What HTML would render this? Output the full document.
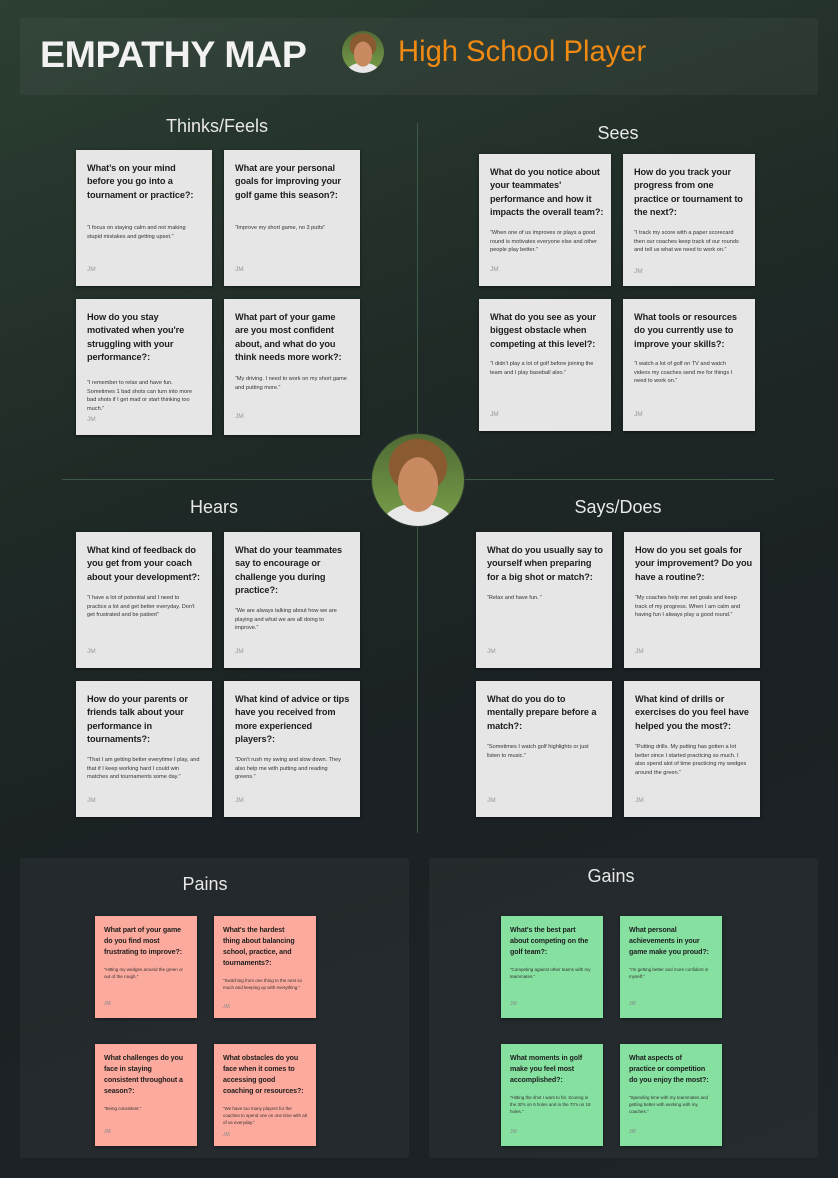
<!DOCTYPE html>
<html><head><meta charset="utf-8"><style>
*{margin:0;padding:0;box-sizing:border-box}
body{width:838px;height:1178px;position:relative;overflow:hidden;font-family:"Liberation Sans",sans-serif;
background:linear-gradient(160deg,#2c3f32 0%,#1f2a26 35%,#1b2124 60%,#1d2326 100%)}
.panel{position:absolute;background:rgba(255,255,255,0.04);border-radius:3px}
.h{position:absolute;color:#e8e8e8;font-size:18px;text-align:center;width:200px}
.c{position:absolute;background:#e6e6e6;color:#1e1e1e;box-shadow:0 1px 3px rgba(0,0,0,.5)}
.c .q{position:absolute;left:11px;top:12px;white-space:nowrap;font-weight:bold;font-size:9.2px;line-height:13.3px;letter-spacing:-0.1px}
.c .a{position:absolute;left:11px;right:12px;font-size:5.6px;line-height:8.7px;color:#333}
.c .j{position:absolute;left:11px;font-size:6.5px;color:#999}
.s{position:absolute;color:#1e1e1e;box-shadow:0 1px 3px rgba(0,0,0,.5)}
.s .q{position:absolute;left:9px;top:9px;white-space:nowrap;font-weight:bold;font-size:7.1px;line-height:11px;letter-spacing:-0.1px}
.s .a{position:absolute;left:9px;right:8px;font-size:4.5px;line-height:7px;color:#333}
.s .j{position:absolute;left:9px;font-size:5px;color:#888}
.p{background:#fcaa9d}.g{background:#86e0a0}
.face{position:absolute;border-radius:50%;overflow:hidden;background:radial-gradient(ellipse 22% 30% at 50% 55%,#c98a62 0 98%,transparent 100%),radial-gradient(ellipse 32% 30% at 50% 35%,#8a5a30 0 98%,transparent 100%),radial-gradient(ellipse 40% 25% at 50% 100%,#e8e8e8 0 98%,transparent 100%),linear-gradient(#4f6a35,#7aa04a)}
</style></head><body>
<div class="panel" style="left:20px;top:18px;width:798px;height:77px"></div>
<div style="position:absolute;left:40px;top:33px;font-size:37.5px;font-weight:bold;color:#f2f2f2;letter-spacing:-0.4px">EMPATHY MAP</div>
<div class="face" style="left:342px;top:31px;width:42px;height:42px"></div>
<div style="position:absolute;left:398px;top:36px;font-size:29.2px;color:#f08a12">High School Player</div>

<div style="position:absolute;left:417px;top:123px;width:1px;height:710px;background:#3d5a47"></div>
<div style="position:absolute;left:62px;top:479px;width:712px;height:1px;background:#3d5a47"></div>

<div class="h" style="left:117px;top:116px">Thinks/Feels</div>
<div class="h" style="left:518px;top:123px">Sees</div>
<div class="h" style="left:114px;top:497px">Hears</div>
<div class="h" style="left:518px;top:497px">Says/Does</div>

<div class="c" style="left:76px;top:150px;width:136px;height:136px"><div class="q">What’s on your mind<br>before you go into a<br>tournament or practice?:</div><div class="a" style="top:74px">“I focus on staying calm and not making stupid mistakes and getting upset.”</div><div class="j" style="top:116px">JM</div></div>
<div class="c" style="left:224px;top:150px;width:136px;height:136px"><div class="q">What are your personal<br>goals for improving your<br>golf game this season?:</div><div class="a" style="top:74px">“Improve my short game, no 3 putts”</div><div class="j" style="top:116px">JM</div></div>
<div class="c" style="left:76px;top:299px;width:136px;height:136px"><div class="q">How do you stay<br>motivated when you're<br>struggling with your<br>performance?:</div><div class="a" style="top:80px">“I remember to relax and have fun. Sometimes 1 bad shots can turn into more bad shots if I get mad or start thinking too much.”</div><div class="j" style="top:117px">JM</div></div>
<div class="c" style="left:224px;top:299px;width:136px;height:136px"><div class="q">What part of your game<br>are you most confident<br>about, and what do you<br>think needs more work?:</div><div class="a" style="top:76px">“My driving. I need to work on my short game and putting more.”</div><div class="j" style="top:114px">JM</div></div>

<div class="c" style="left:479px;top:154px;width:132px;height:132px"><div class="q">What do you notice about<br>your teammates'<br>performance and how it<br>impacts the overall team?:</div><div class="a" style="top:75px">“When one of us improves or plays a good round is motivates everyone else and other people play better.”</div><div class="j" style="top:112px">JM</div></div>
<div class="c" style="left:623px;top:154px;width:132px;height:132px"><div class="q">How do you track your<br>progress from one<br>practice or tournament to<br>the next?:</div><div class="a" style="top:75px">“I track my score with a paper scorecard then our coaches keep track of our rounds and tell us what we need to work on.”</div><div class="j" style="top:114px">JM</div></div>
<div class="c" style="left:479px;top:299px;width:132px;height:132px"><div class="q">What do you see as your<br>biggest obstacle when<br>competing at this level?:</div><div class="a" style="top:61px">“I didn't play a lot of golf before joining the team and I play baseball also.”</div><div class="j" style="top:112px">JM</div></div>
<div class="c" style="left:623px;top:299px;width:132px;height:132px"><div class="q">What tools or resources<br>do you currently use to<br>improve your skills?:</div><div class="a" style="top:61px">“I watch a lot of golf on TV and watch videos my coaches send me for things I need to work on.”</div><div class="j" style="top:112px">JM</div></div>

<div class="c" style="left:76px;top:532px;width:136px;height:136px"><div class="q">What kind of feedback do<br>you get from your coach<br>about your development?:</div><div class="a" style="top:62px">“I have a lot of potential and I need to practice a lot and get better everyday. Don't get frustrated and be patient”</div><div class="j" style="top:116px">JM</div></div>
<div class="c" style="left:224px;top:532px;width:136px;height:136px"><div class="q">What do your teammates<br>say to encourage or<br>challenge you during<br>practice?:</div><div class="a" style="top:75px">“We are always talking about how we are playing and what we are all doing to improve.”</div><div class="j" style="top:116px">JM</div></div>
<div class="c" style="left:76px;top:681px;width:136px;height:136px"><div class="q">How do your parents or<br>friends talk about your<br>performance in<br>tournaments?:</div><div class="a" style="top:75px">“That I am getting better everytime I play, and that if I keep working hard I could win matches and tournaments some day.”</div><div class="j" style="top:116px">JM</div></div>
<div class="c" style="left:224px;top:681px;width:136px;height:136px"><div class="q">What kind of advice or tips<br>have you received from<br>more experienced<br>players?:</div><div class="a" style="top:75px">“Don't rush my swing and slow down. They also help me with putting and reading greens.”</div><div class="j" style="top:116px">JM</div></div>

<div class="c" style="left:476px;top:532px;width:136px;height:136px"><div class="q">What do you usually say to<br>yourself when preparing<br>for a big shot or match?:</div><div class="a" style="top:62px">“Relax and have fun. ”</div><div class="j" style="top:116px">JM</div></div>
<div class="c" style="left:624px;top:532px;width:136px;height:136px"><div class="q">How do you set goals for<br>your improvement? Do you<br>have a routine?:</div><div class="a" style="top:62px">“My coaches help me set goals and keep track of my progress. When I am calm and having fun I always play a good round.”</div><div class="j" style="top:116px">JM</div></div>
<div class="c" style="left:476px;top:681px;width:136px;height:136px"><div class="q">What do you do to<br>mentally prepare before a<br>match?:</div><div class="a" style="top:62px">“Sometimes I watch golf highlights or just listen to music.”</div><div class="j" style="top:116px">JM</div></div>
<div class="c" style="left:624px;top:681px;width:136px;height:136px"><div class="q">What kind of drills or<br>exercises do you feel have<br>helped you the most?:</div><div class="a" style="top:62px">“Putting drills. My putting has gotten a lot better since I started practicing so much. I also spend alot of time practicing my wedges around the green.”</div><div class="j" style="top:116px">JM</div></div>

<div class="face" style="left:371px;top:433px;width:94px;height:94px;border:1px solid #2a3a30"></div>

<div class="panel" style="left:20px;top:858px;width:389px;height:300px"></div>
<div class="panel" style="left:429px;top:858px;width:389px;height:300px"></div>
<div class="h" style="left:105px;top:874px">Pains</div>
<div class="h" style="left:511px;top:866px">Gains</div>

<div class="s p" style="left:95px;top:916px;width:102px;height:102px"><div class="q">What part of your game<br>do you find most<br>frustrating to improve?:</div><div class="a" style="top:50px">“Hitting my wedges around the green or out of the rough.”</div><div class="j" style="top:85px">JM</div></div>
<div class="s p" style="left:214px;top:916px;width:102px;height:102px"><div class="q">What's the hardest<br>thing about balancing<br>school, practice, and<br>tournaments?:</div><div class="a" style="top:61px">“Switching from one thing to the next so much and keeping up with everything.”</div><div class="j" style="top:88px">JM</div></div>
<div class="s p" style="left:95px;top:1044px;width:102px;height:102px"><div class="q">What challenges do you<br>face in staying<br>consistent throughout a<br>season?:</div><div class="a" style="top:61px">“Being consistent.”</div><div class="j" style="top:85px">JM</div></div>
<div class="s p" style="left:214px;top:1044px;width:102px;height:102px"><div class="q">What obstacles do you<br>face when it comes to<br>accessing good<br>coaching or resources?:</div><div class="a" style="top:61px">“We have too many players for the coaches to spend one on one time with all of us everyday.”</div><div class="j" style="top:88px">JM</div></div>

<div class="s g" style="left:501px;top:916px;width:102px;height:102px"><div class="q">What's the best part<br>about competing on the<br>golf team?:</div><div class="a" style="top:50px">“Competing against other teams with my teammates.”</div><div class="j" style="top:85px">JM</div></div>
<div class="s g" style="left:620px;top:916px;width:102px;height:102px"><div class="q">What personal<br>achievements in your<br>game make you proud?:</div><div class="a" style="top:50px">“I'm getting better and more confident in myself.”</div><div class="j" style="top:85px">JM</div></div>
<div class="s g" style="left:501px;top:1044px;width:102px;height:102px"><div class="q">What moments in golf<br>make you feel most<br>accomplished?:</div><div class="a" style="top:50px">“Hitting the shot I want to hit. Scoring in the 30's on 9 holes and in the 70's on 18 holes.”</div><div class="j" style="top:85px">JM</div></div>
<div class="s g" style="left:620px;top:1044px;width:102px;height:102px"><div class="q">What aspects of<br>practice or competition<br>do you enjoy the most?:</div><div class="a" style="top:50px">“Spending time with my teammates and getting better with working with my coaches.”</div><div class="j" style="top:85px">JM</div></div>
</body></html>
